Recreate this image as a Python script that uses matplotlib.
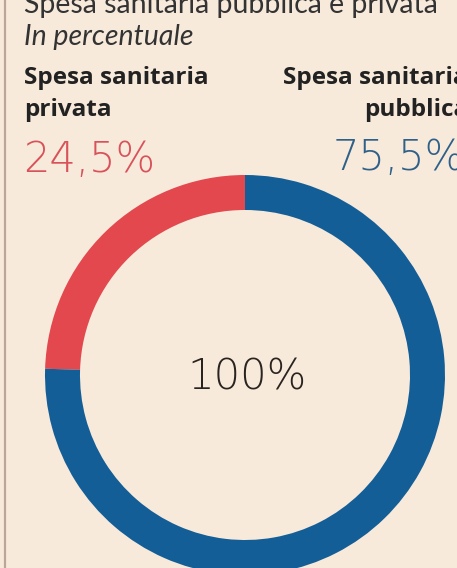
import matplotlib.pyplot as plt
from matplotlib.lines import Line2D

title = "Spesa sanitaria pubblica e privata"
subtitle = "In percentuale"
labels = ["Spesa sanitaria\nprivata", "Spesa sanitaria\npubblica"]
values = [24.5, 75.5]
value_labels = ["24,5%", "75,5%"]
colors = ["#e2484d", "#145e97"]
text_colors = ["#d9525a", "#2f6089"]
total_label = "100%"

bg = "#f8eadb"
W, H = 457, 568

fig = plt.figure(figsize=(W / 100, H / 100), dpi=100, facecolor=bg)


def fx(px):
    return px / W


def fy(py):
    return 1 - py / H


# left rule
fig.add_artist(Line2D([fx(5), fx(5)], [0, 1], color="#b9a899", linewidth=1.6))

fig.text(fx(24), fy(13), title, fontsize=20.5, color="#333333", family="Lato",
         ha="left", va="baseline")
fig.text(fx(24), fy(45), subtitle, fontsize=20.5, color="#333333", style="italic",
         family="Lato", ha="left", va="baseline")

# labels
fig.text(fx(24), fy(94), labels[0], fontsize=17.5, color="#222222", fontweight="bold",
         ha="left", va="center", linespacing=1.45, family="Open Sans")
fig.text(fx(468), fy(94), labels[1], fontsize=17.5, color="#222222", fontweight="bold",
         ha="right", va="center", linespacing=1.45, multialignment="right",
         family="Open Sans")
fig.text(fx(23), fy(172), value_labels[0], fontsize=30, color=text_colors[0],
         fontweight="light", ha="left", va="baseline", family="DejaVu Sans")
fig.text(fx(465), fy(170), value_labels[1], fontsize=30, color=text_colors[1],
         fontweight="light", ha="right", va="baseline", family="DejaVu Sans")

# donut
cx, cy, r = 245, 375, 200
ax = fig.add_axes([fx(cx - r), fy(cy + r), 2 * r / W, 2 * r / H])
ax.set_facecolor("none")
wedges, _ = ax.pie(values, colors=colors, startangle=90, counterclock=True,
                   radius=1, wedgeprops=dict(width=0.175, linewidth=0))
for w in wedges:
    w.set_clip_on(False)
ax.set_xlim(-1, 1)
ax.set_ylim(-1, 1)
ax.set_aspect("equal")
ax.axis("off")
fig.text(fx(247), fy(390), total_label, fontsize=30, color="#2a2420",
         fontweight="light", ha="center", va="baseline", family="DejaVu Sans")

plt.savefig("out.png", dpi=100, facecolor=bg)
